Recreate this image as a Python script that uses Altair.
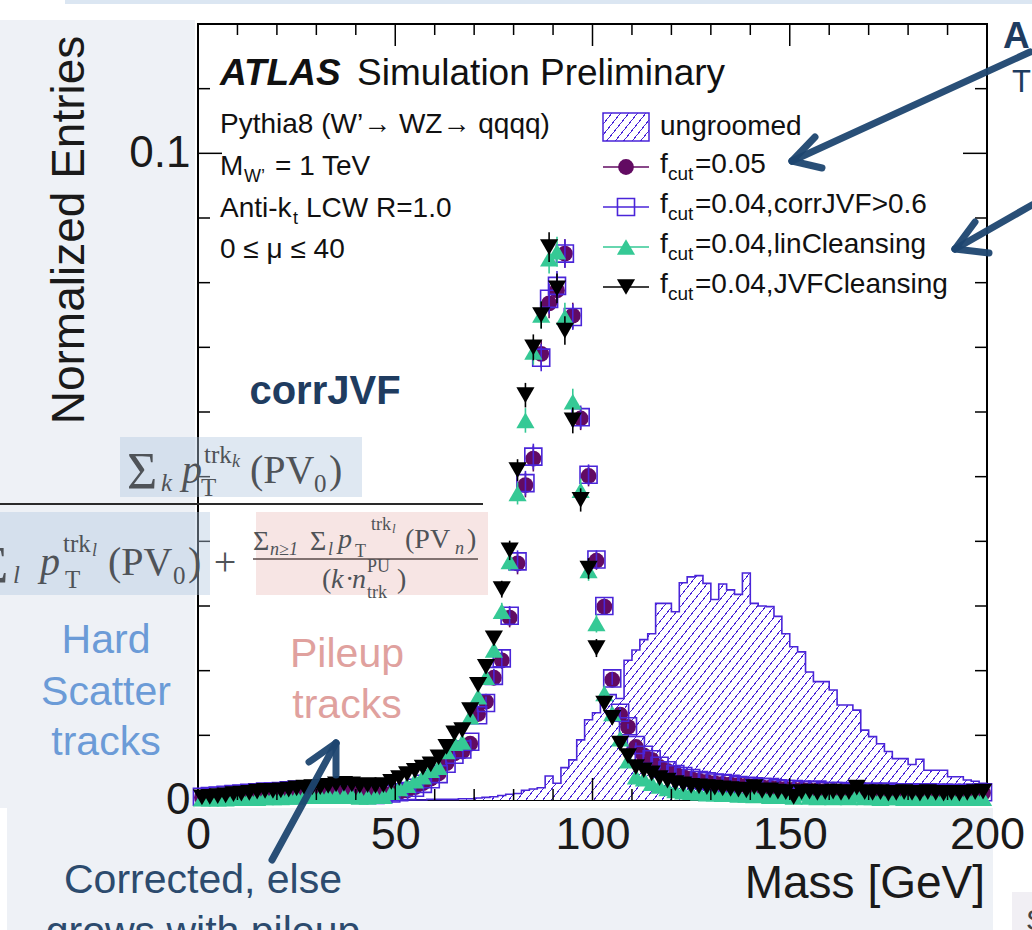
import altair as alt
import pandas as pd

# ---------------- data ----------------
mass_centers = [1 + 2 * i for i in range(100)]   # 2 GeV bins, 0-200 GeV

ungroomed = [
    0, 0, 0, 0, 0, 0, 0, 0, 0, 0,
    0, 0, 0, 0, 0, 0, 0, 0, 0, 0,
    0, 0, 0, 0, 0, 0, 0, 0, 0, 0.0001,
    0.0001, 0.0001, 0.0001, 0.0002, 0.0002, 0.0003, 0.0004, 0.0005, 0.0007, 0.0009,
    0.0010, 0.0015, 0.0017, 0.0019, 0.0037, 0.0026, 0.0050, 0.0062, 0.0093, 0.0124,
    0.0135, 0.0160, 0.0163, 0.0157, 0.0216, 0.0232, 0.0248, 0.0257, 0.0304, 0.0304,
    0.0291, 0.0336, 0.0345, 0.0347, 0.0335, 0.0310, 0.0334, 0.0325, 0.0318, 0.0351,
    0.0304, 0.0300, 0.0299, 0.0284, 0.0257, 0.0237, 0.0229, 0.0198, 0.0183, 0.0183,
    0.0170, 0.0147, 0.0147, 0.0139, 0.0108, 0.0098, 0.0087, 0.0075, 0.0064, 0.0064,
    0.0055, 0.0063, 0.0046, 0.0046, 0.0046, 0.0036, 0.0036, 0.0031, 0.0029, 0.0026,
]

fcut005 = [
    0.0004, 0.0005, 0.0006, 0.0007, 0.0008, 0.0009, 0.0010, 0.0011, 0.0012, 0.0012,
    0.0013, 0.0014, 0.0015, 0.0016, 0.0015, 0.0014, 0.0013, 0.0012, 0.0011, 0.0011,
    0.0010, 0.0010, 0.0009, 0.0009, 0.0010, 0.0012, 0.0015, 0.0020, 0.0026, 0.0033,
    0.0041, 0.0057, 0.0072, 0.0075, 0.0087, 0.0133, 0.0152, 0.0189, 0.0216, 0.0282,
    0.0366, 0.0487, 0.0528, 0.0690, 0.0768, 0.0788, 0.0845, 0.0749, 0.0590, 0.0501,
    0.0370, 0.0299, 0.0186, 0.0132, 0.0113, 0.0082, 0.0069, 0.0062, 0.0051, 0.0045,
    0.0041, 0.0036, 0.0033, 0.0030, 0.0028, 0.0026, 0.0025, 0.0024, 0.0023, 0.0022,
    0.0021, 0.0020, 0.0019, 0.0018, 0.0017, 0.0016, 0.0016, 0.0015, 0.0015, 0.0014,
    0.0014, 0.0013, 0.0014, 0.0013, 0.0012, 0.0013, 0.0012, 0.0012, 0.0011, 0.0012,
    0.0011, 0.0011, 0.0012, 0.0011, 0.0010, 0.0011, 0.0010, 0.0011, 0.0010, 0.0011,
]

corrjvf = [
    0.0005, 0.0006, 0.0007, 0.0008, 0.0009, 0.0010, 0.0011, 0.0012, 0.0013, 0.0013,
    0.0014, 0.0015, 0.0016, 0.0016, 0.0015, 0.0014, 0.0012, 0.0011, 0.0010, 0.0010,
    0.0009, 0.0009, 0.0008, 0.0009, 0.0010, 0.0012, 0.0014, 0.0019, 0.0025, 0.0032,
    0.0040, 0.0056, 0.0070, 0.0078, 0.0090, 0.0131, 0.0150, 0.0192, 0.0219, 0.0285,
    0.0369, 0.0490, 0.0531, 0.0684, 0.0775, 0.0795, 0.0845, 0.0747, 0.0592, 0.0503,
    0.0372, 0.0300, 0.0188, 0.0135, 0.0114, 0.0085, 0.0070, 0.0063, 0.0053, 0.0046,
    0.0040, 0.0037, 0.0034, 0.0031, 0.0029, 0.0027, 0.0026, 0.0025, 0.0023, 0.0022,
    0.0021, 0.0020, 0.0020, 0.0018, 0.0017, 0.0017, 0.0016, 0.0015, 0.0016, 0.0014,
    0.0014, 0.0014, 0.0013, 0.0013, 0.0012, 0.0013, 0.0012, 0.0013, 0.0011, 0.0012,
    0.0012, 0.0011, 0.0012, 0.0011, 0.0011, 0.0011, 0.0010, 0.0011, 0.0011, 0.0012,
]

lincleansing = [
    0.0002, 0.0002, 0.0002, 0.0002, 0.0003, 0.0003, 0.0003, 0.0003, 0.0004, 0.0004,
    0.0004, 0.0005, 0.0005, 0.0006, 0.0006, 0.0006, 0.0007, 0.0006, 0.0006, 0.0006,
    0.0005, 0.0005, 0.0006, 0.0006, 0.0012, 0.0018, 0.0023, 0.0030, 0.0036, 0.0046,
    0.0051, 0.0075, 0.0088, 0.0090, 0.0129, 0.0160, 0.0190, 0.0232, 0.0292, 0.0369,
    0.0474, 0.0587, 0.0693, 0.0750, 0.0837, 0.0848, 0.0747, 0.0616, 0.0479, 0.0355,
    0.0273, 0.0165, 0.0134, 0.0095, 0.0061, 0.0036, 0.0033, 0.0026, 0.0022, 0.0018,
    0.0015, 0.0013, 0.0012, 0.0011, 0.0010, 0.0010, 0.0009, 0.0009, 0.0008, 0.0008,
    0.0007, 0.0008, 0.0006, 0.0007, 0.0006, 0.0005, 0.0010, 0.0005, 0.0004, 0.0005,
    0.0004, 0.0005, 0.0004, 0.0008, 0.0004, 0.0004, 0.0003, 0.0004, 0.0004, 0.0003,
    0.0004, 0.0003, 0.0004, 0.0003, 0.0003, 0.0004, 0.0003, 0.0003, 0.0004, 0.0003,
]

jvfcleansing = [
    0.0004, 0.0005, 0.0006, 0.0007, 0.0009, 0.0010, 0.0011, 0.0013, 0.0014, 0.0014,
    0.0015, 0.0016, 0.0018, 0.0019, 0.0020, 0.0020, 0.0022, 0.0024, 0.0025, 0.0024,
    0.0022, 0.0023, 0.0022, 0.0023, 0.0028, 0.0034, 0.0040, 0.0045, 0.0050, 0.0055,
    0.0066, 0.0082, 0.0103, 0.0108, 0.0139, 0.0178, 0.0206, 0.0250, 0.0326, 0.0386,
    0.0510, 0.0626, 0.0700, 0.0750, 0.0855, 0.0791, 0.0726, 0.0587, 0.0464, 0.0358,
    0.0235, 0.0149, 0.0127, 0.0087, 0.0068, 0.0051, 0.0046, 0.0041, 0.0034, 0.0030,
    0.0026, 0.0024, 0.0022, 0.0021, 0.0020, 0.0019, 0.0018, 0.0017, 0.0016, 0.0015,
    0.0020, 0.0014, 0.0015, 0.0013, 0.0012, 0.0005, 0.0012, 0.0013, 0.0011, 0.0012,
    0.0013, 0.0011, 0.0012, 0.0019, 0.0012, 0.0011, 0.0012, 0.0010, 0.0011, 0.0012,
    0.0011, 0.0010, 0.0012, 0.0011, 0.0010, 0.0011, 0.0010, 0.0011, 0.0012, 0.0013,
]

# statistical error bars (half-length) near the peak; small elsewhere
err_peak = {71: 0.0009, 73: 0.0010, 75: 0.0011, 77: 0.0013, 79: 0.0015, 81: 0.0017,
            83: 0.0019, 85: 0.0020, 87: 0.0021, 89: 0.0023, 91: 0.0023, 93: 0.0022,
            95: 0.0020, 97: 0.0018, 99: 0.0016, 101: 0.0014, 103: 0.0012, 105: 0.0010,
            107: 0.0009}
err_default = 0.0004

x_labels = [0, 50, 100, 150, 200]
y_labels = [0, 0.1]
x_minor_ticks = [10, 20, 30, 40, 60, 70, 80, 90, 110, 120, 130, 140, 160, 170, 180, 190]
x_major_ticks = [50, 100, 150]
y_minor_ticks = [0.01, 0.02, 0.03, 0.04, 0.05, 0.06, 0.07, 0.08, 0.09, 0.11]
y_major_ticks = [0.1]

# ---------------- layout / style ----------------
W, H = 789, 776          # plot area
L, TOP = 198, 24         # plot origin on the page
XMAX, YMAX = 200, 0.12

SANS = "Liberation Sans"
SERIF = "Liberation Serif"
VIOLET = "#4a25d9"
PURPLE = "#620b62"
GREEN = "#35c995"
BLACK = "#000000"
NAVY = "#1f3c60"
ARROW = "#1d4670"
FORM = "#4f5358"
PANEL = "#eef1f6"

SZ_CIRCLE, SZ_SQUARE, SZ_TRI = 250, 290, 330

ONE = pd.DataFrame({"d": [0]})


def PX(x):
    return x - L


def PY(y):
    return y - TOP


xs = alt.Scale(domain=[0, XMAX], nice=False, zero=False)
ys = alt.Scale(domain=[0, YMAX], nice=False, zero=True)
xaxis = alt.Axis(values=x_labels, title=None, ticks=False, domain=False, grid=False,
                 labelFontSize=45, labelFont=SANS, labelColor="#1a1a1a", labelPadding=12,
                 labelFlush=False, labelOverlap=False, format="d", zindex=1)
yaxis = alt.Axis(values=y_labels, title=None, ticks=False, domain=False, grid=False,
                 labelFontSize=44, labelFont=SANS, labelColor="#1a1a1a", labelPadding=8,
                 labelFlush=False, labelOverlap=False, format="~g", zindex=1)


def xenc(f):
    return alt.X(f, type="quantitative", scale=xs, axis=xaxis)


def yenc(f):
    return alt.Y(f, type="quantitative", scale=ys, axis=yaxis)


def T(text, x, y, size, color="#111111", font=SANS, weight="normal", style="normal",
      align="left", baseline="alphabetic", angle=0):
    return alt.Chart(ONE).mark_text(text=text, font=font, fontSize=size, color=color,
                                    fontWeight=weight, fontStyle=style, align=align,
                                    baseline=baseline, angle=angle).encode(
        x=alt.value(PX(x)), y=alt.value(PY(y)))


def R(x1, y1, x2, y2, color, width, cap="butt", opacity=1):
    return alt.Chart(ONE).mark_rule(color=color, strokeWidth=width, strokeCap=cap,
                                    opacity=opacity).encode(
        x=alt.value(PX(x1)), y=alt.value(PY(y1)), x2=alt.value(PX(x2)), y2=alt.value(PY(y2)))


def B(x1, y1, x2, y2, color, opacity=1):
    return alt.Chart(ONE).mark_rect(color=color, opacity=opacity).encode(
        x=alt.value(PX(x1)), y=alt.value(PY(y1)), x2=alt.value(PX(x2)), y2=alt.value(PY(y2)))


def hatch(wpx, hpx, spacing=8.5, slope=1.25, lw=1.2, color=VIOLET, bg="white"):
    r = slope * wpx / hpx
    k = (r + 1) / (r * r + 1)
    gx, gy = r * k, k
    dtdx = gx / ((gx * gx + gy * gy) * wpx)
    period = spacing * dtdx
    w = lw * dtdx
    stops = []
    o = 0.0
    while o < 1:
        a = min(o + w, 1.0)
        b = min(o + period, 1.0)
        stops += [(o, color), (a, color), (a, bg), (b, bg)]
        o += period
    return alt.Gradient(gradient="linear",
                        stops=[alt.GradientStop(offset=round(s, 5), color=c) for s, c in stops],
                        x1=0, y1=0, x2=round(gx, 4), y2=round(gy, 4))


layers = []

# ---------------- slide background ----------------
layers += [
    B(65, 0, 1032, 4, "#dbe6f2"),
    B(0, 20, 195, 808, PANEL),
    B(7, 808, 993, 930, PANEL),
    B(1012, 892, 1032, 930, "#f1eff4"),
]

# ---------------- histogram (ungroomed) ----------------
hist_df = pd.DataFrame({"edge": [c - 1 for c in mass_centers] + [XMAX],
                        "val": ungroomed + [ungroomed[-1]]})
hatch_df = hist_df[hist_df["edge"] >= 60]
bw = (XMAX - 60) / XMAX * W
bh = max(ungroomed) / YMAX * H
layers.append(alt.Chart(hatch_df).mark_area(interpolate="step-after",
                                            fill=hatch(bw, bh), opacity=1).encode(
    x=xenc("edge"), y=yenc("val")))
layers.append(alt.Chart(hist_df).mark_line(interpolate="step-after", color=VIOLET,
                                           strokeWidth=1.6).encode(
    x=xenc("edge"), y=yenc("val")))


# ---------------- marker series ----------------
def series(vals, color, shape, filled, size, sw):
    errs = [err_peak.get(c, err_default) for c in mass_centers]
    df = pd.DataFrame({"m": mass_centers, "v": vals,
                       "lo": [max(v - e, 0) for v, e in zip(vals, errs)],
                       "hi": [v + e for v, e in zip(vals, errs)]})
    eb = alt.Chart(df).mark_rule(color=color, strokeWidth=1.6).encode(
        x=xenc("m"), y=yenc("lo"), y2=alt.Y2("hi"))
    pt = alt.Chart(df).mark_point(shape=shape, filled=filled, size=size, color=color,
                                  opacity=1, strokeWidth=sw).encode(x=xenc("m"), y=yenc("v"))
    return [eb, pt]


layers += series(fcut005, PURPLE, "circle", True, SZ_CIRCLE, 1)
layers += series(corrjvf, VIOLET, "square", False, SZ_SQUARE, 1.6)
layers += series(lincleansing, GREEN, "triangle-up", True, SZ_TRI, 1)
layers += series(jvfcleansing, BLACK, "triangle-down", True, SZ_TRI, 1)


# ---------------- inward ticks ----------------
def xticks(vals, length):
    df = pd.DataFrame({"t": vals})
    bot = alt.Chart(df).mark_rule(color="black", strokeWidth=1.5).encode(
        x=xenc("t"), y=alt.value(H), y2=alt.value(H - length))
    top = alt.Chart(df).mark_rule(color="black", strokeWidth=1.5).encode(
        x=xenc("t"), y=alt.value(0), y2=alt.value(length))
    return [bot, top]


def yticks(vals, length):
    df = pd.DataFrame({"t": vals})
    left = alt.Chart(df).mark_rule(color="black", strokeWidth=1.5).encode(
        y=yenc("t"), x=alt.value(0), x2=alt.value(length))
    right = alt.Chart(df).mark_rule(color="black", strokeWidth=1.5).encode(
        y=yenc("t"), x=alt.value(W), x2=alt.value(W - length))
    return [left, right]


layers += xticks(x_minor_ticks, 11) + xticks(x_major_ticks, 22)
layers += yticks(y_minor_ticks, 12) + yticks(y_major_ticks, 24)

# ---------------- ATLAS labels ----------------
layers += [
    T("ATLAS", 220, 85, 37, weight="bold", style="italic"),
    T("Simulation Preliminary", 357, 85, 37),
    T("Pythia8 (W’→ WZ→ qqqq)", 220, 133, 28),
    T("M", 220, 175, 28), T("W’", 244, 182, 18), T("= 1 TeV", 275, 175, 28),
    T("Anti-k", 220, 217, 28), T("t", 293, 224, 18), T("LCW R=1.0", 306, 217, 28),
    T("0 ≤ μ ≤ 40", 220, 258, 28),
]

# ---------------- legend ----------------
layers.append(alt.Chart(ONE).mark_rect(fill=hatch(46, 28), stroke=VIOLET,
                                       strokeWidth=1.5).encode(
    x=alt.value(PX(603)), x2=alt.value(PX(649)), y=alt.value(PY(113)), y2=alt.value(PY(141))))
layers.append(T("ungroomed", 660, 135, 28))
leg_rows = [("=0.05", 167, PURPLE, "circle", True, SZ_CIRCLE, 1),
            ("=0.04,corrJVF>0.6", 207, VIOLET, "square", False, SZ_SQUARE, 1.6),
            ("=0.04,linCleansing", 247, GREEN, "triangle-up", True, SZ_TRI, 1),
            ("=0.04,JVFCleansing", 287, BLACK, "triangle-down", True, SZ_TRI, 1)]
for lab, yc, col, shp, fil, sz, sw in leg_rows:
    layers.append(R(603, yc, 649, yc, col, 1.5))
    layers.append(alt.Chart(ONE).mark_point(shape=shp, filled=fil, size=sz, color=col,
                                            opacity=1, strokeWidth=sw).encode(
        x=alt.value(PX(626)), y=alt.value(PY(yc))))
    yb = yc + 6
    layers += [T("f", 660, yb, 28), T("cut", 668, yb + 7, 19), T(lab, 695, yb, 28)]

# ---------------- axis titles ----------------
layers += [
    T("Normalized Entries", 70, 230, 46, "#1a1a1a", angle=270, align="center", baseline="middle"),
    T("Mass [GeV]", 985, 898, 46, "#1a1a1a", align="right"),
]

# ---------------- corrJVF formula ----------------
layers += [
    B(120, 437, 362, 497, "#b3c9e0", 0.42),
    B(0, 512, 210, 595, "#b3c9e0", 0.42),
    B(256, 512, 488, 595, "#e6aaa5", 0.3),
    R(0, 504, 483, 504, "#2a2a2a", 2),
    # numerator
    T("Σ", 127, 489, 52, FORM, SERIF),
    T("k", 161, 491, 25, FORM, SERIF, style="italic"),
    T("p", 182, 483, 40, FORM, SERIF, style="italic"),
    T("trk", 204, 463, 25, FORM, SERIF),
    T("k", 232, 467, 18, FORM, SERIF, style="italic"),
    T("T", 201, 496, 25, FORM, SERIF),
    T("(PV", 250, 483, 40, FORM, SERIF),
    T("0", 314, 492, 25, FORM, SERIF),
    T(")", 329, 483, 40, FORM, SERIF),
    # denominator, hard-scatter part
    T("Σ", -22, 583, 52, FORM, SERIF),
    T("l", 13, 583, 25, FORM, SERIF, style="italic"),
    T("p", 40, 575, 40, FORM, SERIF, style="italic"),
    T("trk", 63, 552, 25, FORM, SERIF),
    T("l", 92, 556, 18, FORM, SERIF, style="italic"),
    T("T", 65, 588, 25, FORM, SERIF),
    T("(PV", 108, 575, 40, FORM, SERIF),
    T("0", 173, 584, 25, FORM, SERIF),
    T(")", 188, 575, 40, FORM, SERIF),
    T("+", 225, 575, 40, FORM, SERIF, align="center"),
    # pileup part
    T("Σ", 253, 550, 28, FORM, SERIF),
    T("n≥1", 270, 555, 18, FORM, SERIF, style="italic"),
    T("Σ", 310, 550, 28, FORM, SERIF),
    T("l", 328, 555, 18, FORM, SERIF, style="italic"),
    T("p", 338, 548, 28, FORM, SERIF, style="italic"),
    T("trk", 371, 530, 18, FORM, SERIF),
    T("l", 392, 533, 13, FORM, SERIF, style="italic"),
    T("T", 355, 557, 18, FORM, SERIF),
    T("(PV", 405, 548, 28, FORM, SERIF),
    T("n", 455, 554, 18, FORM, SERIF, style="italic"),
    T(")", 467, 548, 28, FORM, SERIF),
    R(253, 559, 478, 559, "#5a4a4a", 1.5),
    T("(", 322, 588, 28, FORM, SERIF),
    T("k", 331, 588, 28, FORM, SERIF, style="italic"),
    T("·", 345, 588, 28, FORM, SERIF),
    T("n", 352, 588, 28, FORM, SERIF, style="italic"),
    T("PU", 367, 572, 18, FORM, SERIF),
    T("trk", 367, 598, 18, FORM, SERIF),
    T(")", 397, 588, 28, FORM, SERIF),
]

# ---------------- slide annotations ----------------
layers += [
    T("corrJVF", 325, 404, 40, NAVY, weight="bold", align="center"),
    T("Hard", 106, 653, 41, "#6b9bd7", align="center"),
    T("Scatter", 106, 705, 41, "#6b9bd7", align="center"),
    T("tracks", 106, 755, 41, "#6b9bd7", align="center"),
    T("Pileup", 347, 667, 41, "#e0a19e", align="center"),
    T("tracks", 347, 718, 41, "#e0a19e", align="center"),
    T("Corrected, else", 203, 893, 41, "#2c4b6e", align="center"),
    T("grows with pileup", 203, 945, 41, "#2c4b6e", align="center"),
    T("A", 1003, 48, 37, NAVY, weight="bold"),
    T("T", 1012, 92, 31, NAVY),
    T("S", 1026, 930, 30, "#444444"),
]

# arrows
arrows = [
    ((1030, 52), (792, 161), (815, 137), (822, 168)),
    ((1032, 205), (955, 249), (975, 222), (989, 253)),
    ((272, 860), (336, 743), (309, 762), (336, 775)),
]
for tail, head, b1, b2 in arrows:
    layers.append(R(tail[0], tail[1], head[0], head[1], ARROW, 7, "round", 0.95))
    layers.append(R(head[0], head[1], b1[0], b1[1], ARROW, 7, "round", 0.95))
    layers.append(R(head[0], head[1], b2[0], b2[1], ARROW, 7, "round", 0.95))

chart = alt.layer(*layers).properties(
    width=W, height=H,
    padding={"left": L, "top": TOP, "right": 1032 - L - W, "bottom": 930 - TOP - H},
    autosize=alt.AutoSizeParams(type="none"),
    background="white",
).configure_view(stroke="black", strokeWidth=2)

chart.save("out.html", embed_options={"renderer": "svg", "actions": False})
